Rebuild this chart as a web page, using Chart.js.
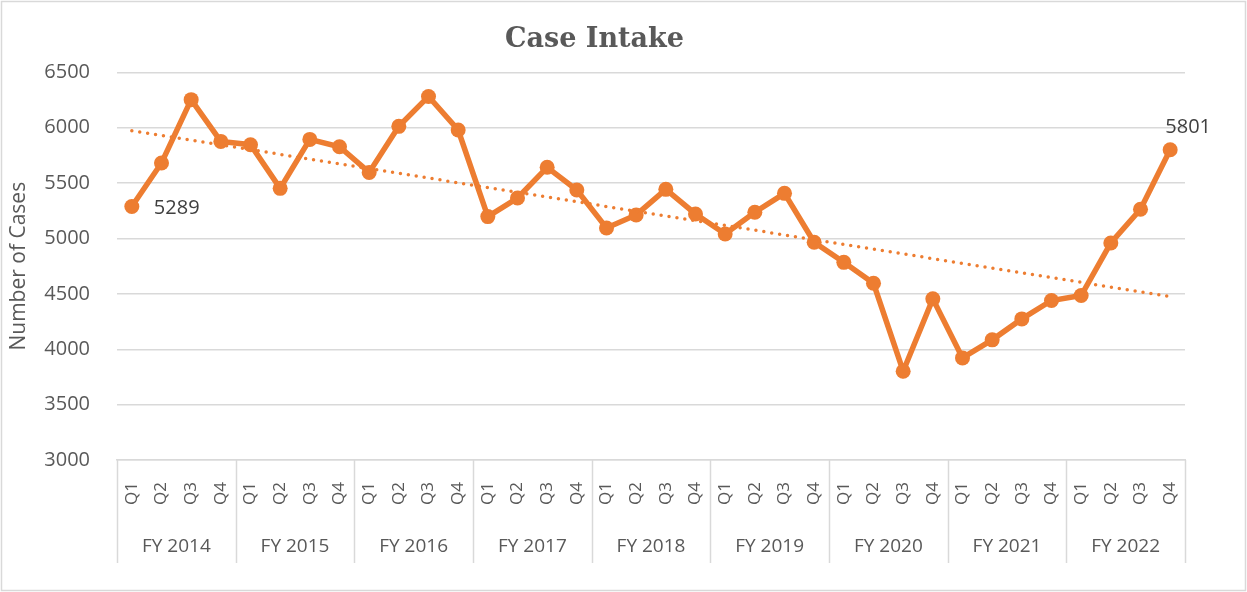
<!DOCTYPE html>
<html>
<head>
<meta charset="utf-8">
<script src="https://cdn.jsdelivr.net/npm/chart.js@4.4.1/dist/chart.umd.min.js"></script>
<style>
  html, body { margin: 0; padding: 0; background: #fff; }
  #wrap { width: 1247px; height: 592px; }
</style>
</head>
<body>
<div id="wrap"><canvas id="chart-area"></canvas></div>
<script>
// data
const years = ['FY 2014', 'FY 2015', 'FY 2016', 'FY 2017', 'FY 2018', 'FY 2019', 'FY 2020', 'FY 2021', 'FY 2022'];
const quarters = ['Q1', 'Q2', 'Q3', 'Q4'];
const intake = [
  5289, 5682, 6254, 5877,
  5847, 5453, 5895, 5829,
  5597, 6013, 6283, 5980,
  5198, 5366, 5643, 5438,
  5095, 5213, 5444, 5222,
  5041, 5237, 5408, 4966,
  4785, 4596, 3802, 4455,
  3922, 4085, 4274, 4440,
  4485, 4960, 5264, 5801
];
// linear trendline: value at first and last quarter
const trendEnds = [5974, 4476];
const yTicks = [3000, 3500, 4000, 4500, 5000, 5500, 6000, 6500];

const orange = '#ED7D31';
const grey = '#D9D9D9';
const textGrey = '#595959';

let labels = years.flatMap(function () { return quarters; });
let trend = intake.map(function (v, i) {
  if (i === 0) return trendEnds[0];
  if (i === intake.length - 1) return trendEnds[1];
  return null;
});

// white background + thin outer frame
const frame = {
  id: 'frame',
  beforeDraw: function (chart) {
    let ctx = chart.ctx;
    ctx.save();
    ctx.fillStyle = '#fff';
    ctx.fillRect(0, 0, chart.width, chart.height);
    ctx.strokeStyle = grey;
    ctx.lineWidth = 1.5;
    ctx.strokeRect(1.5, 1.5, chart.width - 3, chart.height - 3);
    ctx.restore();
  }
};

// year row under the quarter labels, with separators
const yearRow = {
  id: 'yearRow',
  afterDraw: function (chart) {
    let x = chart.scales.x;
    let ctx = chart.ctx;
    let top = chart.chartArea.bottom;
    let bottom = top + 103;
    let half = (x.getPixelForValue(1) - x.getPixelForValue(0)) / 2;
    ctx.save();
    ctx.strokeStyle = grey;
    ctx.lineWidth = 1.5;
    for (let i = 0; i <= years.length; i++) {
      let px = Math.round(x.getPixelForValue(i * quarters.length) - half) + 0.5;
      ctx.beginPath();
      ctx.moveTo(px, top);
      ctx.lineTo(px, bottom);
      ctx.stroke();
    }
    ctx.fillStyle = textGrey;
    ctx.font = '19px "Open Sans"';
    ctx.textAlign = 'center';
    ctx.textBaseline = 'middle';
    years.forEach(function (y, i) {
      let a = x.getPixelForValue(i * quarters.length) - half;
      let b = x.getPixelForValue((i + 1) * quarters.length - 1) + half;
      ctx.fillText(y, (a + b) / 2, top + 87);
    });
    ctx.restore();
  }
};

// data labels on first and last point
const endLabels = {
  id: 'endLabels',
  afterDatasetsDraw: function (chart) {
    let meta = chart.getDatasetMeta(1);
    let ctx = chart.ctx;
    let first = meta.data[0];
    let last = meta.data[meta.data.length - 1];
    ctx.save();
    ctx.fillStyle = '#404040';
    ctx.font = '20px "Open Sans"';
    ctx.textBaseline = 'middle';
    ctx.textAlign = 'left';
    ctx.fillText(String(intake[0]), first.x + 22, first.y + 2);
    ctx.textAlign = 'center';
    ctx.fillText(String(intake[intake.length - 1]), last.x + 18, last.y - 23);
    ctx.restore();
  }
};

var config = {
  type: 'line',
  data: {
    labels: labels,
    datasets: [{
      label: 'Linear trend',
      data: trend,
      spanGaps: true,
      borderColor: orange,
      borderWidth: 3.5,
      borderDash: [0, 8],
      borderCapStyle: 'round',
      pointRadius: 0,
      fill: false,
      order: 0
    }, {
      label: 'Case Intake',
      data: intake,
      borderColor: orange,
      backgroundColor: orange,
      borderWidth: 5.5,
      pointRadius: 7.5,
      pointBorderWidth: 0,
      pointBackgroundColor: orange,
      tension: 0,
      fill: false,
      order: 1
    }]
  },
  options: {
    responsive: true,
    maintainAspectRatio: false,
    animation: false,
    layout: { padding: { left: 4, right: 62, top: 0, bottom: 0 } },
    plugins: {
      legend: { display: false },
      tooltip: { enabled: false },
      title: {
        display: true,
        text: 'Case Intake',
        color: textGrey,
        font: { family: 'DejaVu Serif', size: 27, weight: 'bold' },
        padding: { top: 24, bottom: 16 }
      }
    },
    scales: {
      x: {
        type: 'category',
        offset: true,
        grid: { display: false, drawTicks: false },
        border: { display: true, color: grey, width: 1.5 },
        ticks: {
          autoSkip: false,
          minRotation: 90,
          maxRotation: 90,
          padding: 22,
          color: textGrey,
          font: { family: 'Open Sans', size: 17 }
        },
        afterFit: function (s) { s.height = 132; }
      },
      y: {
        min: yTicks[0],
        max: yTicks[yTicks.length - 1],
        afterBuildTicks: function (s) {
          s.ticks = yTicks.map(function (v) { return { value: v }; });
        },
        grid: { color: grey, lineWidth: 1.5, drawTicks: false },
        border: { display: false },
        ticks: {
          padding: 27,
          color: textGrey,
          font: { family: 'Open Sans', size: 20 },
          callback: function (v) { return String(v); }
        },
        title: {
          display: true,
          text: 'Number of Cases',
          color: textGrey,
          font: { family: 'Open Sans', size: 21 },
          padding: { top: 2, bottom: 0 }
        },
        afterFit: function (s) { s.width = 113; }
      }
    }
  },
  plugins: [frame, yearRow, endLabels]
};

var chart = new Chart(document.getElementById('chart-area').getContext('2d'), config);
window.myLine = chart;
</script>
</body>
</html>
